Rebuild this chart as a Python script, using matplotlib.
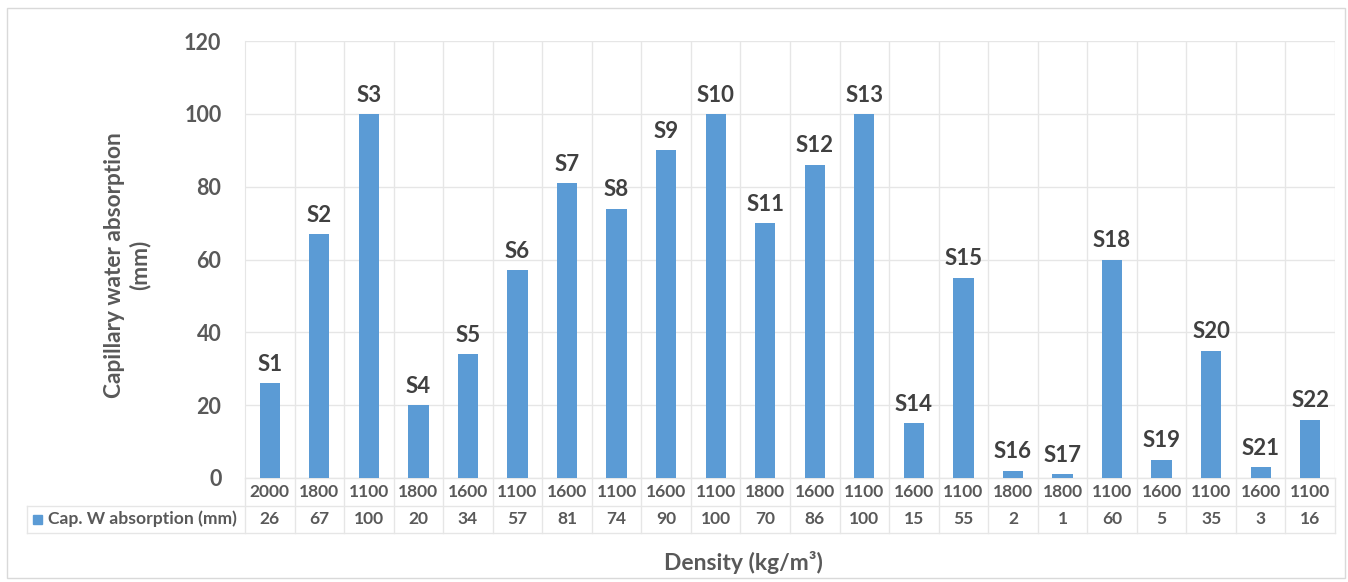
import matplotlib
matplotlib.use("Agg")
import matplotlib.pyplot as plt
from matplotlib.lines import Line2D
from matplotlib.patches import Rectangle
import matplotlib.transforms as mtransforms

plt.rcParams['font.family'] = ['Lato', 'DejaVu Sans']

# data
samples = ['S%d' % i for i in range(1, 23)]
density = [2000, 1800, 1100, 1800, 1600, 1100, 1600, 1100, 1600, 1100, 1800,
           1600, 1100, 1600, 1100, 1800, 1800, 1100, 1600, 1100, 1600, 1100]
absorption = [26, 67, 100, 20, 34, 57, 81, 74, 90, 100, 70,
              86, 100, 15, 55, 2, 1, 60, 5, 35, 3, 16]
series_name = 'Cap. W absorption (mm)'

bar_color = '#5B9BD5'
text_color = '#595959'
grid_color = '#E6E6E6'

W, H = 1348, 582
fig = plt.figure(figsize=(W / 100, H / 100), dpi=100)
left, right, top, bottom = 245, 1335, 41, 478
ax = fig.add_axes([left / W, 1 - bottom / H, (right - left) / W, (bottom - top) / H])

n = len(samples)
x = list(range(n))
bars = ax.bar(x, absorption, width=0.41, color=bar_color, zorder=3)
for xi, v, s in zip(x, absorption, samples):
    ax.annotate(s, (xi, v), xytext=(0, 6), textcoords='offset points',
                ha='center', va='bottom', fontsize=16, fontweight='bold',
                color='#404040')

ax.set_xlim(-0.5, n - 0.5)
ax.set_ylim(0, 120)
ax.set_yticks(range(0, 121, 20))
ax.set_xticks([])
ax.tick_params(axis='y', length=0, pad=17, labelsize=15.5, labelcolor=text_color)
for lab in ax.get_yticklabels():
    lab.set_fontweight('bold')
ax.yaxis.grid(True, color=grid_color, lw=1, zorder=0)
for i in range(n):
    ax.axvline(i + 0.5, color=grid_color, lw=1, zorder=0)
for sp in ['top', 'right', 'bottom']:
    ax.spines[sp].set_visible(False)
ax.spines['left'].set_color(grid_color)

# data table under the plot
ph = bottom - top
r1 = -28 / ph
r2 = -55 / ph
trans = mtransforms.blended_transform_factory(ax.transData, ax.transAxes)
x_lab_left = -0.5 - (left - 27) / ((right - left) / n)

def tline(xs, ys):
    ax.add_line(Line2D(xs, ys, transform=trans, color=grid_color, lw=1,
                       clip_on=False, zorder=1))

tline([-0.5, n - 0.5], [0, 0])
tline([x_lab_left, n - 0.5], [r1, r1])
tline([x_lab_left, n - 0.5], [r2, r2])
tline([x_lab_left, x_lab_left], [r1, r2])
for i in range(n + 1):
    tline([i - 0.5, i - 0.5], [0, r2])

for xi, d, v in zip(x, density, absorption):
    ax.text(xi, r1 / 2, str(d), transform=trans, ha='center', va='center',
            fontsize=12.5, fontweight='bold', color=text_color)
    ax.text(xi, (r1 + r2) / 2, str(v), transform=trans, ha='center', va='center',
            fontsize=12.5, fontweight='bold', color=text_color)

fig.add_artist(Rectangle((33 / W, 1 - 524 / H), 9 / W, 9 / H,
                         transform=fig.transFigure, color=bar_color))
fig.text(48 / W, 1 - 519 / H, series_name, ha='left', va='center',
         fontsize=12.6, fontweight='bold', color=text_color)

fig.text(127 / W, 1 - 265 / H, 'Capillary water absorption\n(mm)', rotation=90,
         ha='center', va='center', fontsize=16.3, fontweight='bold',
         color=text_color, linespacing=1.2)
fig.text(743 / W, 1 - 562 / H, 'Density (kg/m³)', ha='center', va='center',
         fontsize=16.5, fontweight='bold', color=text_color)

fig.add_artist(Rectangle((7 / W, 4 / H), 1338 / W, 570 / H, transform=fig.transFigure,
                         fill=False, edgecolor='#D9D9D9', lw=1))

fig.savefig('out.png', dpi=100)
